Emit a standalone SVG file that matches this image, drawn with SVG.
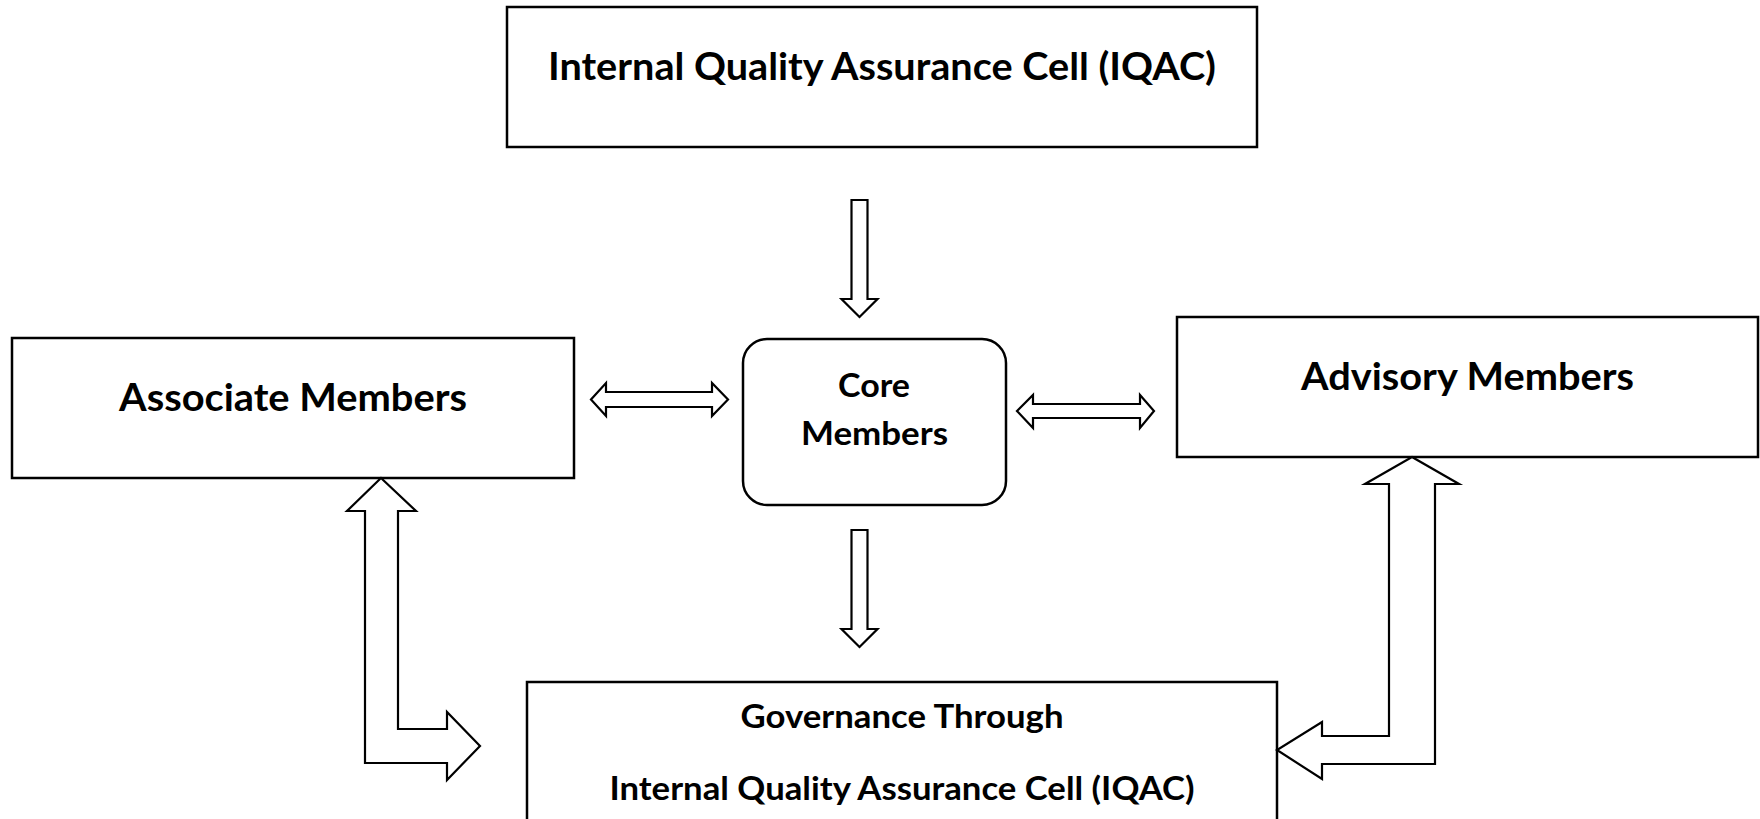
<svg xmlns="http://www.w3.org/2000/svg" width="1760" height="819" viewBox="0 0 1760 819">
<style>
.box{fill:#fff;stroke:#000;stroke-width:2.5}
.arr{fill:#fff;stroke:#000;stroke-width:2.2;stroke-linejoin:miter}
.t{font-family:Lato,"Open Sans","Liberation Sans",sans-serif;font-weight:700;fill:#000;text-anchor:middle}
.big{font-size:38px}
.sm{font-size:33px}
</style>
<rect width="1760" height="819" fill="#fff"/>
<g id="iqac">
<rect class="box" x="507" y="7" width="750" height="140"/>
<text class="t big" x="882" y="80" textLength="668" lengthAdjust="spacingAndGlyphs">Internal Quality Assurance Cell (IQAC)</text>
</g>
<g id="associate">
<rect class="box" x="12" y="338" width="562" height="140"/>
<text class="t big" x="293" y="411" textLength="348" lengthAdjust="spacingAndGlyphs">Associate Members</text>
</g>
<g id="core">
<rect class="box" x="743" y="339" width="263" height="166" rx="24"/>
<text class="t sm" x="874" y="397" textLength="72" lengthAdjust="spacingAndGlyphs">Core</text>
<text class="t sm" x="874.5" y="445" textLength="147" lengthAdjust="spacingAndGlyphs">Members</text>
</g>
<g id="advisory">
<rect class="box" x="1177" y="317" width="581" height="140"/>
<text class="t big" x="1467.5" y="390" textLength="333" lengthAdjust="spacingAndGlyphs">Advisory Members</text>
</g>
<g id="governance">
<rect class="box" x="527" y="682" width="750" height="160"/>
<text class="t sm" x="902" y="728" textLength="323" lengthAdjust="spacingAndGlyphs">Governance Through</text>
<text class="t sm" x="902" y="800" textLength="585" lengthAdjust="spacingAndGlyphs">Internal Quality Assurance Cell (IQAC)</text>
</g>
<g id="connectors">
<polygon class="arr" points="851.5,200 867.5,200 867.5,299 877.5,299 859.5,317 841.5,299 851.5,299"/>
<polygon class="arr" points="851.5,530 867.5,530 867.5,629 877.5,629 859.5,647 841.5,629 851.5,629"/>
<polygon class="arr" points="591,399.5 606,383 606,392 712,392 712,383 728,399.5 712,416 712,407 606,407 606,416"/>
<polygon class="arr" points="1017,411 1033,395 1033,404 1140,404 1140,395 1154,411 1140,428 1140,418 1033,418 1033,428"/>
<polygon class="arr" points="381,478 416,511 398,511 398,729 447,729 447,712 480,746 447,780 447,763 365,763 365,511 347,511"/>
<polygon class="arr" points="1412,457 1459,484 1435,484 1435,764 1322,764 1322,779 1277,750 1322,722 1322,736 1389,736 1389,484 1365,484"/>
</g>
</svg>
